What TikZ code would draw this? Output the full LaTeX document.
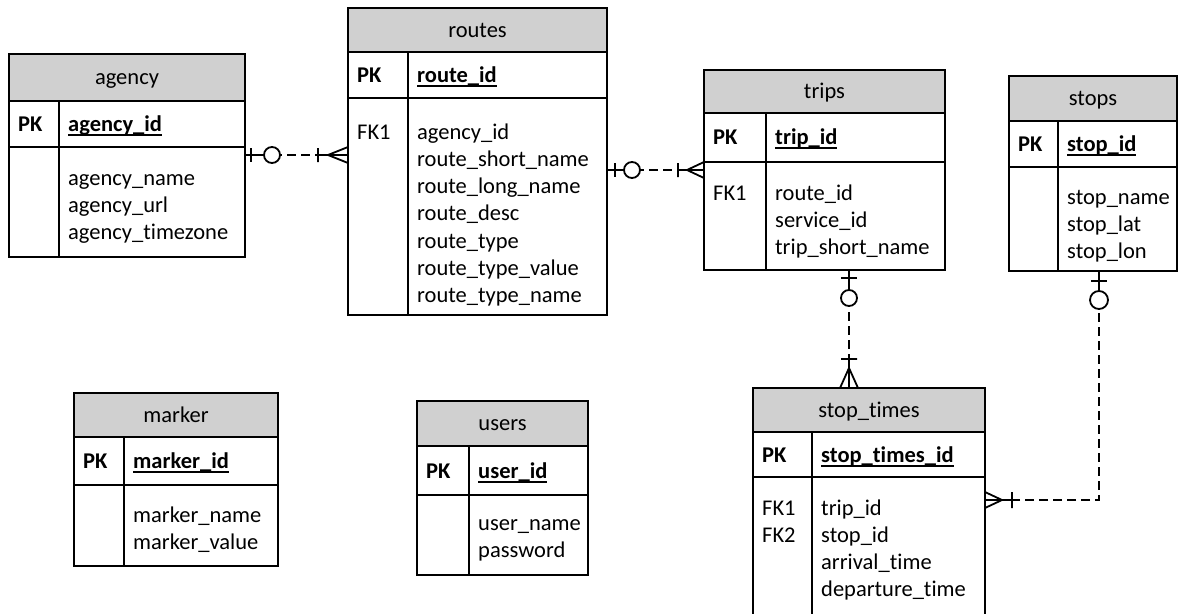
\documentclass[tikz,border=0pt]{standalone}
\usepackage{fontspec}
\setmainfont{Carlito}[Ligatures=NoCommon]
\usetikzlibrary{calc}
\definecolor{hdr}{RGB}{208,208,208}
\newcommand{\pkul}[1]{\setbox0\hbox{\textbf{#1}}\rlap{\rule[-5pt]{\wd0}{1.8pt}}\box0}
\newcommand{\ertable}[9]{%
  \fill[hdr] (#2,#5) rectangle (#3,#6);
  \node[tbl, anchor=north west, minimum width={#3pt-#2pt}, minimum height={#8pt-#5pt}] (#1) at (#2,#5) {};
  \draw[tline] (#2,#6) -- (#3,#6) (#2,#7) -- (#3,#7) (#4,#6) -- (#4,#8);
  \node[txt, anchor=base] (#1-title) at ({(#2+#3)/2},{(#5+#6)/2+7}) {#9};
}
% name, x1, xd, PK text, pk center y, first body line y, FK list, field list
\newcommand{\errows}[8]{%
  \node[txt, anchor=base west] (#1-pk) at (#2+9,#5+7) {\textbf{PK}};
  \node[txt, anchor=base west] (#1-pkf) at (#3+9,#5+7) {\pkul{#4}};
  \foreach \t [count=\i] in {#7} {\node[txt, anchor=base west] (#1-fk\i) at (#2+9,{#6+7+(\i-1)*27.3}) {\t};}
  \foreach \t [count=\i] in {#8} {\node[txt, anchor=base west] (#1-f\i) at (#3+9,{#6+7+(\i-1)*27.3}) {\t};}
}
\begin{document}
\begin{tikzpicture}[x=1pt,y=-1pt,
  tbl/.style={draw, line width=1.6pt, inner sep=0pt, outer sep=0pt},
  tline/.style={line width=1.6pt},
  txt/.style={inner sep=0pt, font=\fontsize{22.5}{27}\selectfont},
  rel/.style={line width=1.8pt},
  reldash/.style={line width=1.8pt, dash pattern=on 9pt off 5pt}]
\useasboundingbox (0,0) rectangle (1185,613);
\fill[white] (0,0) rectangle (1185,613);
\clip (0,0) rectangle (1185,613);

\ertable{agency}{9}{245}{59}{54}{101}{147}{257}{agency}
\errows{agency}{9}{59}{agency\_id}{124}{178}{}{agency\_name,agency\_url,agency\_timezone}

\ertable{routes}{348}{607}{408}{8}{52}{98}{315}{routes}
\errows{routes}{348}{408}{route\_id}{75}{132}{FK1}{agency\_id,route\_short\_name,route\_long\_name,route\_desc,route\_type,route\_type\_value,route\_type\_name}

\ertable{trips}{704}{945}{766}{70}{113}{162}{270}{trips}
\errows{trips}{704}{766}{trip\_id}{137}{193}{FK1}{route\_id,service\_id,trip\_short\_name}

\ertable{stops}{1009}{1177}{1058}{76}{121}{167}{271}{stops}
\errows{stops}{1009}{1058}{stop\_id}{144}{197}{}{stop\_name,stop\_lat,stop\_lon}

\ertable{stoptimes}{753}{985}{812}{388}{432}{477}{640}{stop\_times}
\errows{stoptimes}{753}{812}{stop\_times\_id}{455}{508}{FK1,FK2}{trip\_id,stop\_id,arrival\_time,departure\_time}

\ertable{marker}{74}{278}{124}{393}{437}{485}{566}{marker}
\errows{marker}{74}{124}{marker\_id}{461}{515}{}{marker\_name,marker\_value}

\ertable{users}{417}{588}{469}{401}{446}{495}{575}{users}
\errows{users}{417}{469}{user\_id}{471}{523}{}{user\_name,password}

% helper coordinates
\coordinate (y155) at (0,155);
\coordinate (y170) at (0,170);
\coordinate (x849) at (849,0);
\coordinate (x1099) at (1099,0);
\coordinate (y500) at (0,500);

% agency -- routes
\coordinate (c1s) at (agency.east |- y155);
\coordinate (c1e) at (routes.west |- y155);
\draw[reldash] (c1s) -- (c1e);
\draw[rel] (c1s) -- ++(19,0) ($(c1s)+(6,-7)$) -- ++(0,14);
\draw[rel, fill=white] ($(c1s)+(27,0)$) circle[radius=8pt];
\draw[rel] (c1e) -- ++(-30,0) ($(c1e)+(-30,-7)$) -- ++(0,14)
  ($(c1e)+(0,-8)$) -- ($(c1e)+(-20,0)$) -- ($(c1e)+(0,8)$);

% routes -- trips
\coordinate (c2s) at (routes.east |- y170);
\coordinate (c2e) at (trips.west |- y170);
\draw[reldash] (c2s) -- (c2e);
\draw[rel] (c2s) -- ++(17,0) ($(c2s)+(8,-7)$) -- ++(0,14);
\draw[rel, fill=white] ($(c2s)+(25,0)$) circle[radius=8pt];
\draw[rel] (c2e) -- ++(-26,0) ($(c2e)+(-26,-7)$) -- ++(0,14)
  ($(c2e)+(0,-8)$) -- ($(c2e)+(-17,0)$) -- ($(c2e)+(0,8)$);

% trips -- stop_times
\coordinate (c3s) at (x849 |- trips.south);
\coordinate (c3e) at (x849 |- stoptimes.north);
\draw[reldash] (c3s) -- (c3e);
\draw[rel] (c3s) -- ++(0,20) ($(c3s)+(-8,8)$) -- ++(16,0);
\draw[rel, fill=white] ($(c3s)+(0,28)$) circle[radius=8pt];
\draw[rel] (c3e) -- ++(0,-29) ($(c3e)+(-8,-29)$) -- ++(16,0)
  ($(c3e)+(-9,0)$) -- ($(c3e)+(0,-20)$) -- ($(c3e)+(9,0)$);

% stops -- stop_times
\coordinate (c4s) at (x1099 |- stops.south);
\coordinate (c4c) at (x1099 |- y500);
\coordinate (c4e) at (stoptimes.east |- y500);
\draw[reldash] (c4s) -- (c4c) -- (c4e);
\draw[rel] (c4s) -- ++(0,20) ($(c4s)+(-8,10)$) -- ++(16,0);
\draw[rel, fill=white] ($(c4s)+(0,29)$) circle[radius=9pt];
\draw[rel] (c4e) -- ++(27,0) ($(c4e)+(27,-8)$) -- ++(0,16)
  ($(c4e)+(0,-8)$) -- ($(c4e)+(17,0)$) -- ($(c4e)+(0,8)$);
\end{tikzpicture}
\end{document}
